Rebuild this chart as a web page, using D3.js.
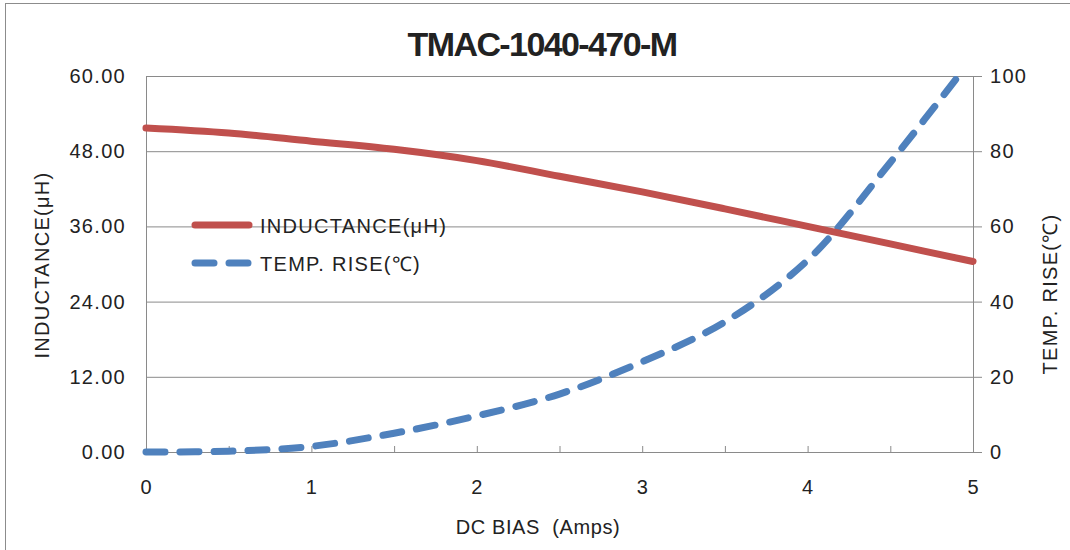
<!DOCTYPE html>
<html>
<head>
<meta charset="utf-8">
<script src="https://cdn.jsdelivr.net/npm/d3@7"></script>
<style>
  body { margin: 0; background: #fff; }
  text { font-family: "Liberation Sans", Arial, sans-serif; fill: #222; }
</style>
</head>
<body>
<div id="chart"></div>
<script>
// values
var bias = [0, 0.5, 1, 1.5, 2, 2.5, 3, 3.5, 4, 4.5, 5];
var inductance = [51.7, 50.9, 49.6, 48.3, 46.5, 44.0, 41.5, 38.8, 36.0, 33.2, 30.4];
var tempRise = [0, 0.2, 1.5, 5.0, 9.6, 15.4, 24.0, 34.6, 51.0, 77.0, 105.0];
var leftTicks = [0, 12, 24, 36, 48, 60];
var rightTicks = [0, 20, 40, 60, 80, 100];
var xTicks = [0, 0.5, 1, 1.5, 2, 2.5, 3, 3.5, 4, 4.5, 5];
var xLabels = [0, 1, 2, 3, 4, 5];

var W = 1070, H = 550;
var margin = {top: 76, right: 97, bottom: 98, left: 146},
    width = W - margin.left - margin.right,
    height = H - margin.top - margin.bottom;

var red = "#C0504D", blue = "#4F81BD", grid = "#8a8a8a";

var svg = d3.select("#chart").append("svg")
    .attr("width", W)
    .attr("height", H);

// outer frame
svg.append("rect")
    .attr("x", 5.5).attr("y", 3.5)
    .attr("width", W + 20).attr("height", H + 20)
    .attr("fill", "none").attr("stroke", "#8c8c8c");

var g = svg.append("g")
    .attr("transform", `translate(${margin.left},${margin.top})`);

var x = d3.scaleLinear().domain([0, 5]).range([0, width]);
var yL = d3.scaleLinear().domain([0, 60]).range([height, 0]);
var yR = d3.scaleLinear().domain([0, 100]).range([height, 0]);

// gridlines + left labels (no tick marks)
g.append("g")
    .call(d3.axisLeft(yL).tickValues(leftTicks).tickSize(-width).tickFormat(d3.format(".2f")).tickPadding(20))
    .call(a => a.select(".domain").attr("stroke", grid))
    .call(a => a.selectAll(".tick line").attr("stroke", grid))
    .call(a => a.selectAll(".tick text")
        .attr("font-size", 20).attr("letter-spacing", "1.3px")
        .attr("font-family", "Liberation Sans").attr("fill", "#222"));

// right axis
g.append("g")
    .attr("transform", `translate(${width},0)`)
    .call(d3.axisRight(yR).tickValues(rightTicks).tickSize(9).tickPadding(8))
    .call(a => a.selectAll(".domain, .tick line").attr("stroke", grid))
    .call(a => a.selectAll(".tick text")
        .attr("font-size", 20).attr("letter-spacing", "1.3px")
        .attr("font-family", "Liberation Sans").attr("fill", "#222"));

// x axis: inner ticks every 0.5, labels on whole amps
g.append("g")
    .attr("transform", `translate(0,${height})`)
    .call(d3.axisBottom(x).tickValues(xTicks).tickSize(-6).tickSizeOuter(0).tickFormat(""))
    .call(a => a.selectAll(".domain, .tick line").attr("stroke", grid));

g.append("g")
    .selectAll("text")
    .data(xLabels)
    .join("text")
    .attr("x", d => x(d))
    .attr("y", height + 42)
    .attr("text-anchor", "middle")
    .attr("font-size", 20)
    .text(d => d);

// clip lines at the top of the plot
svg.append("defs").append("clipPath").attr("id", "clip")
  .append("rect").attr("x", -10).attr("y", 0).attr("width", width + 20).attr("height", height + 10);

var lineL = d3.line()
    .x((d, i) => x(bias[i]))
    .y(d => yL(d))
    .curve(d3.curveCatmullRom.alpha(0.5));

var lineR = d3.line()
    .x((d, i) => x(bias[i]))
    .y(d => yR(d))
    .curve(d3.curveCatmullRom.alpha(0.5));

var lines = g.append("g").attr("clip-path", "url(#clip)");

lines.append("path")
    .datum(tempRise)
    .attr("fill", "none")
    .attr("stroke", blue)
    .attr("stroke-width", 7)
    .attr("stroke-linecap", "round")
    .attr("stroke-dasharray", "19,15")
    .attr("d", lineR);

lines.append("path")
    .datum(inductance)
    .attr("fill", "none")
    .attr("stroke", red)
    .attr("stroke-width", 7)
    .attr("stroke-linecap", "round")
    .attr("d", lineL);

// legend (no box, gridline runs behind it)
var legend = svg.append("g");
legend.append("line")
    .attr("x1", 195).attr("x2", 249).attr("y1", 225).attr("y2", 225)
    .attr("stroke", red).attr("stroke-width", 7).attr("stroke-linecap", "round");
legend.append("text")
    .attr("x", 260).attr("y", 233)
    .attr("font-size", 20).attr("letter-spacing", "1.3px")
    .text("INDUCTANCE(μH)");
legend.append("line")
    .attr("x1", 195).attr("x2", 249).attr("y1", 263).attr("y2", 263)
    .attr("stroke", blue).attr("stroke-width", 7).attr("stroke-linecap", "round")
    .attr("stroke-dasharray", "19,15");
legend.append("text")
    .attr("x", 260).attr("y", 271)
    .attr("font-size", 20).attr("letter-spacing", "1.3px")
    .text("TEMP. RISE(℃)");

// title
svg.append("text")
    .attr("x", 542).attr("y", 56)
    .attr("text-anchor", "middle")
    .attr("font-size", 34).attr("font-weight", "bold")
    .attr("letter-spacing", "-1.6px")
    .attr("fill", "#111")
    .text("TMAC-1040-470-M");

// axis titles
svg.append("text")
    .attr("transform", "translate(49,265) rotate(-90)")
    .attr("text-anchor", "middle")
    .attr("font-size", 20).attr("letter-spacing", "1.3px")
    .text("INDUCTANCE(μH)");

svg.append("text")
    .attr("transform", "translate(1057,294) rotate(-90)")
    .attr("text-anchor", "middle")
    .attr("font-size", 20).attr("letter-spacing", "1.3px")
    .text("TEMP. RISE(℃)");

svg.append("text")
    .attr("x", 538).attr("y", 534)
    .attr("text-anchor", "middle")
    .attr("font-size", 20).attr("letter-spacing", "0.6px")
    .style("white-space", "pre")
    .text("DC BIAS  (Amps)");
</script>
</body>
</html>
